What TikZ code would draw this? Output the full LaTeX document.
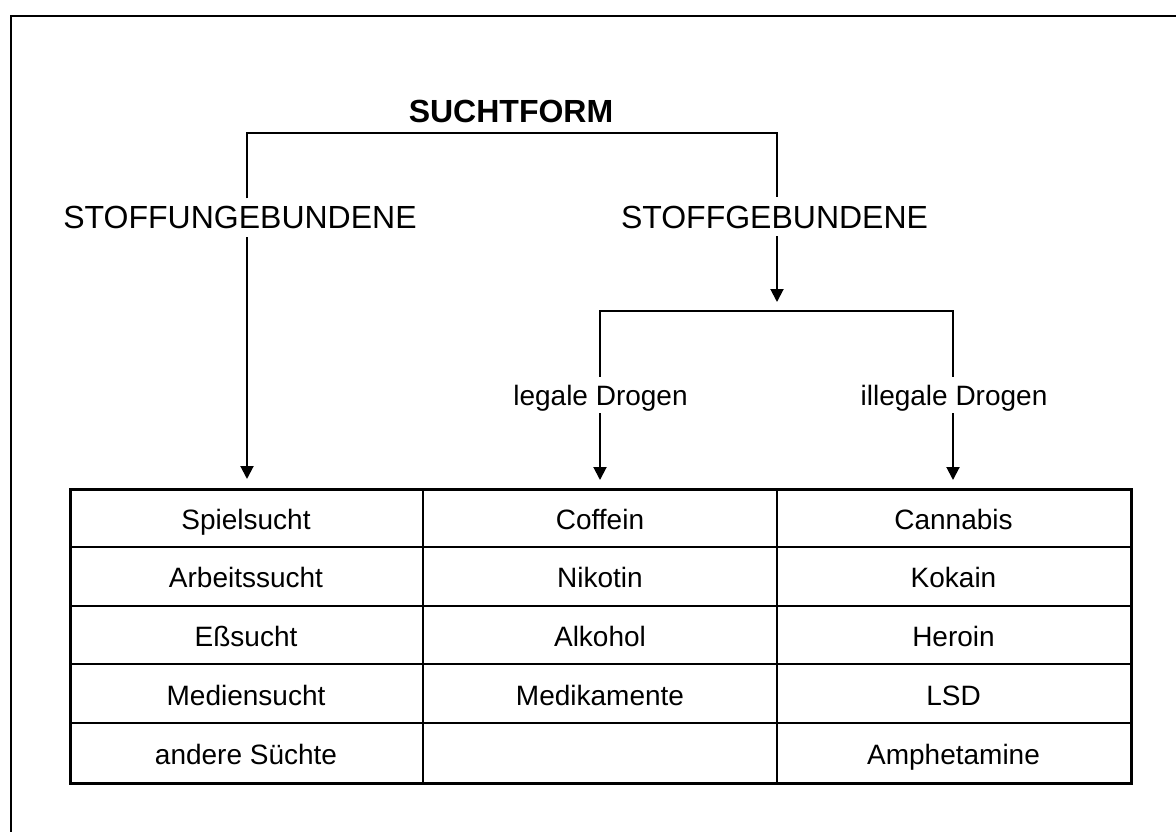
\documentclass[tikz,border=0pt]{standalone}
\usepackage{fontspec}
\setmainfont{Liberation Sans}
\usetikzlibrary{arrows.meta}
\begin{document}
\begin{tikzpicture}[x=1pt,y=-1pt,
  line/.style={line width=2pt},
  arr/.style={line width=2pt,-{Triangle[width=13pt,length=13pt]}},
  big/.style={font=\fontsize{32}{38}\selectfont,anchor=base,inner sep=8pt,text depth=0pt},
  lab/.style={font=\fontsize{28}{34}\selectfont,anchor=base,inner sep=8pt,text depth=0pt},
  cell/.style={font=\fontsize{28}{34}\selectfont,anchor=base,inner sep=0pt},
  tabbox/.style={draw,line width=3pt,minimum width=1061pt,minimum height=294pt,inner sep=0pt,anchor=north west}
]
\useasboundingbox (0,0) rectangle (1176,832);
\clip (0,0) rectangle (1176,832);
% outer frame
\draw[line] (11,16) rectangle (1200,860);

% heading and labels
\node[font=\bfseries\fontsize{32}{38}\selectfont,anchor=base] (sf) at (511,123) {SUCHTFORM};
\node[big] (ung) at (240,229) {STOFFUNGEBUNDENE};
\node[big] (geb) at (774.5,228) {STOFFGEBUNDENE};
\node[lab] (leg) at (600.5,405) {legale Drogen};
\node[lab] (ill) at (954,405) {illegale Drogen};

% table
\node[tabbox] (tab) at (69,488) {};
\draw[line] (423,488) -- (423,782);
\draw[line] (777,488) -- (777,782);
\foreach \k in {1,2,3,4} \draw[line] (69,{488+\k*58.8}) -- (1130,{488+\k*58.8});

\foreach \t [count=\i] in {Spielsucht,Arbeitssucht,Eßsucht,Mediensucht,andere Süchte}
  \node[cell] (a\i) at (246,{488+(\i-1)*58.8+41}) {\t};
\foreach \t [count=\i] in {Coffein,Nikotin,Alkohol,Medikamente}
  \node[cell] (b\i) at (600,{488+(\i-1)*58.8+41}) {\t};
\foreach \t [count=\i] in {Cannabis,Kokain,Heroin,LSD,Amphetamine}
  \node[cell] (c\i) at (953.5,{488+(\i-1)*58.8+41}) {\t};

% connector coordinates
\coordinate (ua) at (247,133);
\coordinate (ga) at (777,133);
\coordinate (mt) at (777,302);
\coordinate (hl) at (600,311);
\coordinate (hr) at (953,311);

\draw[line] (ua |- ung.north) -- (ua) -- (ga) -- (ga |- geb.north);
\draw[arr] (ua |- ung.south) -- ([shift={(0,-9)}]ua |- tab.north);
\draw[arr] (ga |- geb.south) -- (mt);
\draw[line] (hl |- leg.north) -- (hl) -- (hr) -- (hr |- ill.north);
\draw[arr] (hl |- leg.south) -- ([shift={(0,-8)}]hl |- tab.north);
\draw[arr] (hr |- ill.south) -- ([shift={(0,-8)}]hr |- tab.north);
\end{tikzpicture}
\end{document}
